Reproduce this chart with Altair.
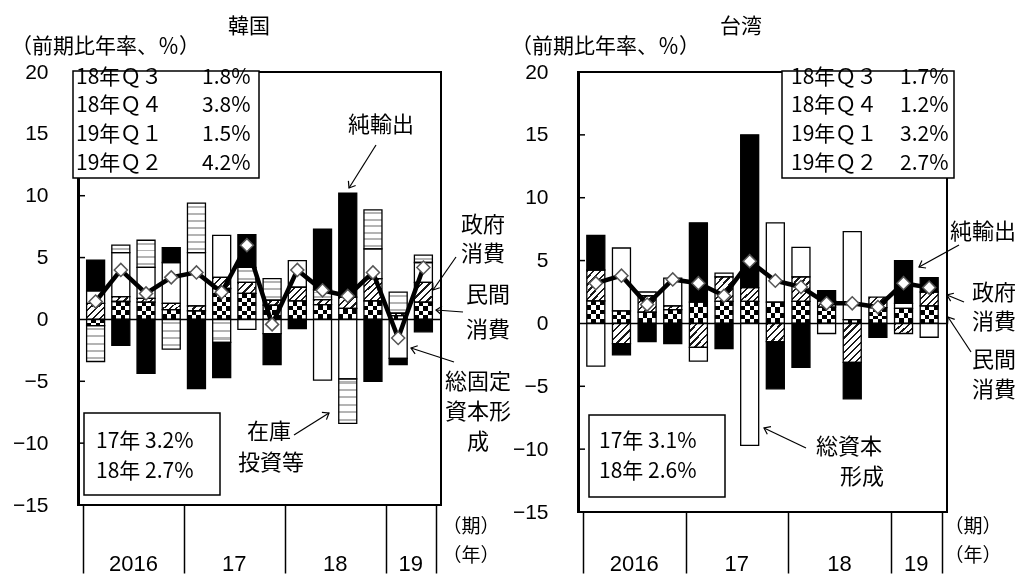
import math
import altair as alt
import pandas as pd

# ---------------- data ----------------
quarters = ["2016Q1", "2016Q2", "2016Q3", "2016Q4", "2017Q1", "2017Q2", "2017Q3",
            "2017Q4", "2018Q1", "2018Q2", "2018Q3", "2018Q4", "2019Q1", "2019Q2"]
year_labels = ["2016", "17", "18", "19"]
quarters_per_year = [4, 4, 4, 2]

# Korea (contributions, % annualised q/q)
kr_components = ["民間消費", "政府消費", "総固定資本形成", "在庫投資等", "純輸出"]
kr_private = [-0.5, 1.45, 1.4, 0.8, 0.7, 2.5, 2.1, 1.15, 1.5, 1.2, 0.9, 1.5, 0.3, 1.4]
kr_government = [1.3, 0.4, 0.3, 0.5, 0.4, 0.9, 0.9, 0.4, 1.1, 0.4, 0.9, 1.8, 0.2, 1.6]
kr_fixed_inv = [1.0, 3.55, 2.5, 3.3, 4.3, 3.4, -0.8, -1.15, 2.15, -4.9, -4.8, 2.4, -3.15, 1.6]
kr_inventory = [-2.9, 0.6, 2.2, -2.4, 4.0, -1.85, 1.2, 1.75, 0.0, 0.8, -3.6, 3.15, 1.7, 0.6]
kr_net_exports = [2.5, -2.1, -4.35, 1.2, -5.6, -2.85, 2.65, -2.5, -0.75, 4.9, 8.4, -5.0, -0.5, -1.0]
kr_gdp = [1.45, 4.0, 2.1, 3.4, 3.8, 2.2, 6.0, -0.4, 4.0, 2.35, 1.9, 3.8, -1.5, 4.2]

# Taiwan
tw_components = ["民間消費", "政府消費", "総資本形成", "純輸出"]
tw_private = [1.8, 1.0, 0.9, 1.1, 1.7, 1.75, 1.75, 1.7, 1.75, 1.3, 0.3, 1.25, 1.2, 1.4]
tw_government = [2.45, -1.6, 1.3, 0.3, -1.9, 1.95, 1.1, -1.45, 1.95, 0.5, -3.1, 0.85, -0.8, 1.1]
tw_capital = [-3.4, 5.0, 0.3, 2.2, -1.1, 0.3, -9.7, 6.3, 2.35, -0.8, 7.0, 0.0, 0.4, -1.1]
tw_net_exports = [2.75, -0.9, -1.45, -1.6, 6.3, -2.0, 12.15, -3.75, -3.5, 0.8, -2.9, -1.1, 3.4, 1.15]
tw_gdp = [3.2, 3.8, 1.5, 3.5, 3.2, 2.2, 4.95, 3.4, 2.9, 1.6, 1.6, 1.3, 3.2, 2.85]

box_quarters = ["18年Ｑ３", "18年Ｑ４", "19年Ｑ１", "19年Ｑ２"]
kr_box_values = ["1.8%", "3.8%", "1.5%", "4.2%"]
tw_box_values = ["1.7%", "1.2%", "3.2%", "2.7%"]
box_years = ["17年", "18年"]
kr_year_values = ["3.2%", "2.7%"]
tw_year_values = ["3.1%", "2.6%"]

y_ticks = list(range(-15, 21, 5))

# ---------------- styling helpers ----------------
JP = "Noto Sans CJK JP"
NUM = "Liberation Sans"
BW = 18          # bar width px
PX = 12.45       # px per unit (approx.)
ONE = pd.DataFrame({"k": [0]})


def grad(stops, x2, y2):
    return {"gradient": "linear", "x1": 0, "y1": 0, "x2": x2, "y2": y2, "stops": stops}


def periodic(n, seq):
    stops = []
    for k in range(n):
        acc = 0.0
        for frac, col in seq:
            a = (k + acc) / n
            acc += frac
            b = (k + acc) / n
            stops.append({"offset": round(a, 5), "color": col})
            stops.append({"offset": round(b, 5), "color": col})
    return stops


def rows(m, c1, c2):
    stops = []
    for j in range(m):
        col = c1 if j % 2 == 0 else c2
        stops.append({"offset": round(j / m, 5), "color": col})
        stops.append({"offset": round((j + 1) / m, 5), "color": col})
    return stops


STRIPE_SEQ = [(0.36, "white"), (0.28, "#b4b4b4"), (0.36, "white")]
HATCH_SEQ = [(0.32, "#1a1a1a"), (0.68, "white")]


def stripes_grad(h):
    return grad(periodic(max(1, round(h / 7.0)), STRIPE_SEQ), 0, 1)


def hatch_grad(h, w=BW, s=5.0):
    r = h / w
    a = (1 + r) / (1 + r * r)
    n = max(1, round((w + h) / (math.sqrt(2) * s)))
    return grad(periodic(n, HATCH_SEQ), round(a, 5), round(a * r, 5))


def checker_rows_grad(h):
    return grad(rows(max(1, round(h / 4.5)), "white", "black"), 0, 1)


CHECK_COLS = grad(rows(4, "black", "white"), 1, 0)
EDGES = [0.25 * k for k in range(1, 19)]


def bucket_color(fn):
    conds = []
    prev = 0.0
    for e in EDGES:
        rep = (prev + e) / 2
        conds.append({"test": f"abs(datum.value) < {e}", "value": fn(rep * PX)})
        prev = e
    return {"condition": conds, "value": fn((prev + 0.5) * PX)}


def txt(s, x, y, size=22, align="center", font=JP):
    return alt.Chart(ONE).mark_text(text=s, fontSize=size, font=font, align=align,
                                    baseline="middle", color="black").encode(
        x=alt.value(x), y=alt.value(y))


def box(x1, y1, x2, y2):
    return alt.Chart(ONE).mark_rect(fill="white", stroke="black", strokeWidth=1.5).encode(
        x=alt.value(x1), x2=alt.value(x2), y=alt.value(y1), y2=alt.value(y2))


def arrow(x1, y1, x2, y2):
    line = alt.Chart(ONE).mark_rule(color="black", strokeWidth=1.2).encode(
        x=alt.value(x1), y=alt.value(y1), x2=alt.value(x2), y2=alt.value(y2))
    ang = math.degrees(math.atan2(y2 - y1, x2 - x1)) % 360
    head = alt.Chart(ONE).mark_point(shape="M -1 -0.75 L 0 0 L -1 0.75", size=130, angle=ang,
                                     filled=False, stroke="black", strokeWidth=1.2,
                                     opacity=1).encode(x=alt.value(x2), y=alt.value(y2))
    return [line, head]


def panel(comps, pats, gdp, width, height, tick_len, texts, boxes, arrows, year_y):
    recs = []
    for k, (vals, pat) in enumerate(zip(comps, pats)):
        for i, v in enumerate(vals):
            recs.append({"xc": i + 0.5, "q": quarters[i], "order": k, "pat": pat, "value": v})
    df = pd.DataFrame(recs)
    bounds = [0]
    for n in quarters_per_year:
        bounds.append(bounds[-1] + n)
    centers = [(a + b) / 2 for a, b in zip(bounds[:-1], bounds[1:])]

    X = alt.X("xc:Q", title=None,
              scale=alt.Scale(domain=[0, len(quarters)], nice=False, zero=False),
              axis=alt.Axis(values=bounds, tickSize=tick_len, tickWidth=1.5, tickColor="black",
                            labels=False, domain=False, grid=False, title=None))
    Y = alt.Y("v0:Q", title=None,
              scale=alt.Scale(domain=[-15, 20], nice=False, zero=False),
              axis=alt.Axis(values=y_ticks, ticks=False, tickSize=0, labelPadding=30,
                            labelFont=NUM, labelFontSize=21, labelColor="black",
                            domainColor="black", domainWidth=3, grid=False, title=None))
    Xp = alt.X("xc:Q", title=None)

    base = alt.Chart(df).transform_stack(
        stack="value", groupby=["xc"], as_=["v0", "v1"],
        sort=[alt.SortField("order", order="ascending")]
    ).transform_filter("datum.value != 0")

    def seg(p):
        return base.transform_filter(f"datum.pat == '{p}'")

    layers = []
    if "checker" in pats:
        layers.append(seg("checker").mark_bar(size=BW, color=CHECK_COLS).encode(
            x=X, y=Y, y2="v1:Q"))
        layers.append(seg("checker").mark_bar(size=BW, blend="difference").encode(
            x=Xp, y=alt.Y("v0:Q", title=None), y2="v1:Q",
            color=bucket_color(checker_rows_grad)))
    if "hatch" in pats:
        layers.append(seg("hatch").mark_bar(size=BW).encode(
            x=Xp, y=alt.Y("v0:Q", title=None), y2="v1:Q", color=bucket_color(hatch_grad)))
    if "white" in pats:
        layers.append(seg("white").mark_bar(size=BW, color="white").encode(
            x=Xp, y=alt.Y("v0:Q", title=None), y2="v1:Q"))
    if "stripes" in pats:
        layers.append(seg("stripes").mark_bar(size=BW).encode(
            x=Xp, y=alt.Y("v0:Q", title=None), y2="v1:Q", color=bucket_color(stripes_grad)))
    if "black" in pats:
        layers.append(seg("black").mark_bar(size=BW, color="black").encode(
            x=Xp, y=alt.Y("v0:Q", title=None), y2="v1:Q"))
    # outlines
    layers.append(base.mark_bar(size=BW, fillOpacity=0, stroke="black", strokeWidth=1.3).encode(
        x=Xp, y=alt.Y("v0:Q", title=None), y2="v1:Q"))
    # zero line
    layers.append(alt.Chart(ONE).mark_rule(color="black", strokeWidth=1.6).encode(
        y=alt.datum(0)))
    # GDP line + diamonds
    gdf = pd.DataFrame({"xc": [i + 0.5 for i in range(len(quarters))], "gdp": gdp})
    layers.append(alt.Chart(gdf).mark_line(color="black", strokeWidth=4.5).encode(
        x=Xp, y=alt.Y("gdp:Q", title=None)))
    layers.append(alt.Chart(gdf).mark_point(shape="diamond", filled=True, fill="white",
                                            stroke="#555555", strokeWidth=1.5, size=170,
                                            opacity=1).encode(
        x=Xp, y=alt.Y("gdp:Q", title=None)))
    # inward y ticks
    layers.append(alt.Chart(pd.DataFrame({"t": [v for v in y_ticks if v not in (-15, 0, 20)]}))
                  .mark_rule(color="black", strokeWidth=1.5).encode(
        y=alt.Y("t:Q", title=None), x=alt.value(0), x2=alt.value(7)))
    # year labels
    layers.append(alt.Chart(pd.DataFrame({"xc": centers, "lab": year_labels})).mark_text(
        font=NUM, fontSize=22, baseline="middle", color="black").encode(
        x=Xp, y=alt.value(year_y), text="lab:N"))
    for b in boxes:
        layers.append(box(*b))
    for t in texts:
        layers.append(txt(*t[:3], **t[3]) if len(t) > 3 else txt(*t))
    for a in arrows:
        layers.extend(arrow(*a))
    return alt.layer(*layers).properties(width=width, height=height)


# ---------------- Korea ----------------
kr_texts = [("韓国", 171, -45, {"size": 21}),
            ("（前期比年率、％）", -67, -25, {"align": "left", "size": 21})]
for j, (lab, val) in enumerate(zip(box_quarters, kr_box_values)):
    yy = [6, 34, 63, 92][j]
    kr_texts.append((lab, -2, yy, {"align": "left", "size": 21}))
    kr_texts.append((val, 124, yy, {"align": "left", "size": 21}))
for j, (lab, val) in enumerate(zip(box_years, kr_year_values)):
    kr_texts.append((lab + " " + val, 18, [370, 400][j], {"align": "left", "size": 21}))
kr_texts += [
    ("純輸出", 303, 53), ("政府", 405, 153), ("消費", 405, 182),
    ("民間", 410, 223), ("消費", 410, 258),
    ("総固定", 400, 310), ("資本形", 400, 340), ("成", 400, 370),
    ("在庫", 191, 360), ("投資等", 193, 391),
    ("（期）", 393, 455, {"size": 19}), ("（年）", 393, 484, {"size": 19}),
]
kr_boxes = [(-5, -1, 181, 106), (6, 341, 142, 423)]
kr_arrows = [(298, 73, 271, 116), (378, 185, 355, 218), (385, 240, 358, 238),
             (376, 290, 333, 276), (216, 363, 251, 341)]

kr = panel([kr_private, kr_government, kr_fixed_inv, kr_inventory, kr_net_exports],
           ["checker", "hatch", "white", "stripes", "black"], kr_gdp,
           363, 433, 68, kr_texts, kr_boxes, kr_arrows, 492)

# ---------------- Taiwan ----------------
tw_texts = [("台湾", 163, -45, {"size": 21}),
            ("（前期比年率、％）", -67, -25, {"align": "left", "size": 21})]
for j, (lab, val) in enumerate(zip(box_quarters, tw_box_values)):
    yy = [6, 34, 63, 92][j]
    tw_texts.append((lab, 213, yy, {"align": "left", "size": 21}))
    tw_texts.append((val, 322, yy, {"align": "left", "size": 21}))
for j, (lab, val) in enumerate(zip(box_years, tw_year_values)):
    tw_texts.append((lab + " " + val, 21, [370, 400][j], {"align": "left", "size": 21}))
tw_texts += [
    ("純輸出", 405, 160), ("政府", 416, 221), ("消費", 416, 250),
    ("民間", 416, 288), ("消費", 416, 318),
    ("総資本", 271, 375), ("形成", 284, 405),
    ("（期）", 395, 455, {"size": 19}), ("（年）", 395, 484, {"size": 19}),
]
tw_boxes = [(204, -1, 376, 106), (11, 343, 147, 425)]
tw_arrows = [(381, 173, 341, 195), (386, 230, 369, 223), (393, 280, 370, 245),
             (228, 376, 186, 356)]

tw = panel([tw_private, tw_government, tw_capital, tw_net_exports],
           ["checker", "hatch", "white", "black"], tw_gdp,
           369, 440, 61, tw_texts, tw_boxes, tw_arrows, 492)

chart = alt.hconcat(kr, tw, spacing=137, bounds="flush").properties(
    padding={"left": 2, "top": 7, "right": 0, "bottom": 0}
).configure_view(stroke="black", strokeWidth=2)

chart.save("out.html", embed_options={"renderer": "svg", "actions": False})
